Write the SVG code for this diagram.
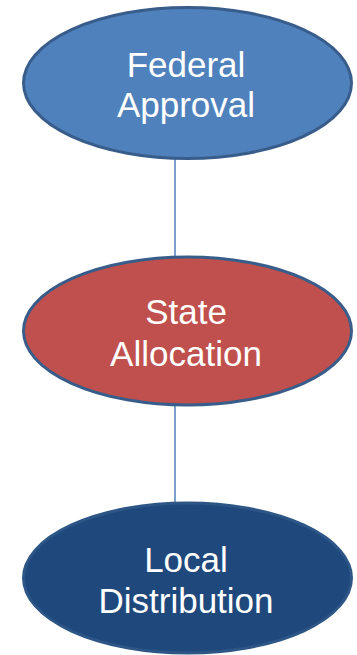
<svg xmlns="http://www.w3.org/2000/svg" width="357" height="655" viewBox="0 0 357 655">
<style>
.lbl{font-family:"Liberation Sans",Arial,sans-serif;font-size:35px;fill:#ffffff;text-anchor:middle}
.conn{stroke:#4f81bd;stroke-width:1.5;fill:none}
</style>
<rect width="357" height="655" fill="#ffffff"/>
<g id="connectors">
<line class="conn" x1="175" y1="159" x2="175" y2="257"/>
<line class="conn" x1="175" y1="405" x2="175" y2="503"/>
</g>
<g id="federal">
<ellipse cx="187.5" cy="83" rx="164" ry="75.5" fill="#4f81bd" stroke="#385d8a" stroke-width="3"/>
<text class="lbl" x="186" y="77">Federal</text>
<text class="lbl" x="186" y="117">Approval</text>
</g>
<g id="state">
<ellipse cx="187.5" cy="331" rx="164" ry="74" fill="#c0504d" stroke="#385d8a" stroke-width="3"/>
<text class="lbl" x="186" y="324">State</text>
<text class="lbl" x="186" y="366">Allocation</text>
</g>
<g id="local">
<ellipse cx="187.5" cy="578" rx="164" ry="75" fill="#1f497d" stroke="#2d5687" stroke-width="3"/>
<text class="lbl" x="186" y="572">Local</text>
<text class="lbl" x="186" y="613">Distribution</text>
</g>
</svg>
